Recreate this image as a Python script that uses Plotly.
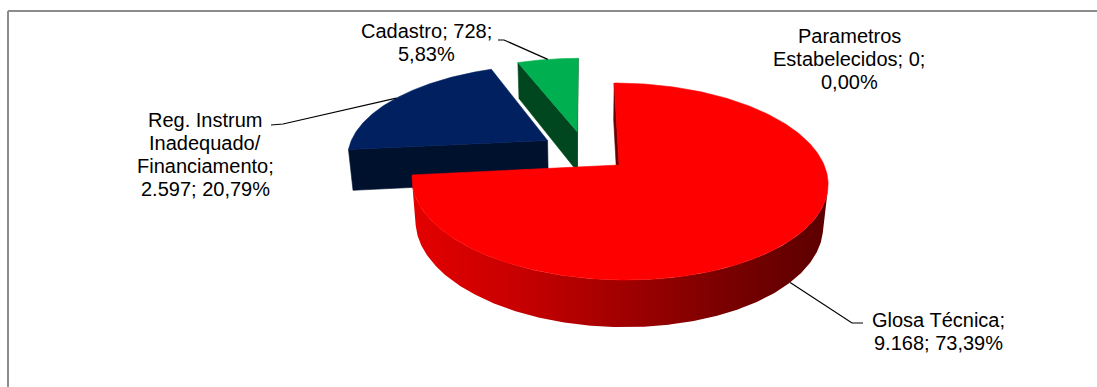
import numpy as np
import plotly.graph_objects as go

# ---- data ----
categories = ["Parametros Estabelecidos", "Glosa Técnica",
              "Reg. Instrum Inadequado/ Financiamento", "Cadastro"]
values = [0, 9168, 2597, 728]

# label text layout per category ({v} = value, {p} = percentage)
label_lines = [
    ["Parametros", "Estabelecidos; {v};", "{p}"],
    ["Glosa Técnica;", "{v}; {p}"],
    ["Reg. Instrum", "Inadequado/", "Financiamento;", "{v}; {p}"],
    ["Cadastro; {v};", "{p}"],
]

# ---- styling ----
top_colors = ["#7f7f7f", "#ff0000", "#002060", "#00b050"]
face_colors = ["#404040", "#6a0000", "#00112e", "#00461f"]
side_scales = [
    None,
    [[0, "#e40000"], [0.25, "#c80000"], [0.5, "#a20000"], [0.75, "#7a0000"], [1, "#5c0000"]],
    [[0, "#00112e"], [1, "#00081a"]],
    [[0, "#00461f"], [1, "#003015"]],
]
# label centre (x, y of first line), line step, leader elbow points
label_pos = [(849, 36), (938, 320), (205, 120), (426, 31)]
LINE_STEP = 23
leader_elbow = [None, [(852, 323), (863, 323)], [(283, 124), (271, 125)], [(504, 40), (498, 40)]]
leader_on_bottom = [False, True, False, False]

FONT = dict(family="Liberation Sans, Arial, sans-serif", size=20, color="#000000")

# ---- 3-D pie projection ----
W, H = 1097, 387
CX, CY = 585, 151
FOCAL = 200.0
ELEV = np.arcsin(0.4555)
DIST = 5.45
THICK = 0.234
EXPLODE = 0.224
COS_E, SIN_E = np.cos(ELEV), np.sin(ELEV)


def project(u, v, w):
    u, v, w = np.asarray(u, float), np.asarray(v, float), np.asarray(w, float)
    z = DIST - v * COS_E - w * SIN_E
    x = CX + FOCAL * DIST * u / z
    y = CY - FOCAL * DIST * (w * COS_E - v * SIN_E) / z
    return x, y


def fmt_val(v):
    return f"{v:,}".replace(",", ".")


def fmt_pct(p):
    return f"{p:.2f}".replace(".", ",") + "%"


total = sum(values)
cum = np.concatenate([[0], np.cumsum(values)])
slices = []
for i, val in enumerate(values):
    t0 = 2 * np.pi * cum[i] / total
    t1 = 2 * np.pi * cum[i + 1] / total
    mid = 0.5 * (t0 + t1)
    ou, ov = EXPLODE * np.sin(mid), -EXPLODE * np.cos(mid)
    slices.append(dict(i=i, t0=t0, t1=t1, mid=mid, ou=ou, ov=ov, val=val))

fig = go.Figure()


def add_poly(x, y, color=None, scale=None):
    kw = dict(x=list(x) + [x[0]], y=list(y) + [y[0]], mode="lines", fill="toself",
              line=dict(width=0.6, color=color if color else "rgba(0,0,0,0)"),
              hoverinfo="skip", showlegend=False)
    if scale is not None:
        kw["fillgradient"] = dict(type="horizontal", colorscale=scale)
        kw["line"] = dict(width=0)
    else:
        kw["fillcolor"] = color
    fig.add_trace(go.Scatter(**kw))


cam_v = DIST * COS_E
for s in sorted(slices, key=lambda d: d["ov"]):
    if s["val"] <= 0:
        continue
    i, t0, t1, ou, ov = s["i"], s["t0"], s["t1"], s["ou"], s["ov"]

    # flat cut faces
    for edge, nang in ((t0, t0 - np.pi / 2), (t1, t1 + np.pi / 2)):
        facing = -ou * np.sin(nang) + (cam_v - ov) * (-np.cos(nang))
        if facing > 0:
            eu, ev = ou + np.sin(edge), ov - np.cos(edge)
            fx, fy = project([ou, eu, eu, ou], [ov, ev, ev, ov], [0, 0, -THICK, -THICK])
            add_poly(fx, fy, color=face_colors[i])

    # curved outer wall (only the part facing the viewer)
    th = np.linspace(t0, t1, 400)
    vis = -ou * np.sin(th) - (cam_v - ov) * np.cos(th) - 1 > 0
    th = th[vis]
    if th.size > 1:
        au, av = ou + np.sin(th), ov - np.cos(th)
        tx, ty = project(au, av, np.zeros_like(th))
        bx, by = project(au, av, np.full_like(th, -THICK))
        add_poly(np.concatenate([tx, bx[::-1]]), np.concatenate([ty, by[::-1]]),
                 scale=side_scales[i])

    # top face
    th = np.linspace(t0, t1, 300)
    pu = np.concatenate([[ou], ou + np.sin(th)])
    pv = np.concatenate([[ov], ov - np.cos(th)])
    px, py = project(pu, pv, np.zeros_like(pu))
    add_poly(px, py, color=top_colors[i])

# ---- labels & leader lines ----
annotations = []
for s in slices:
    i = s["i"]
    pct = 100.0 * s["val"] / total
    lx, ly = label_pos[i]
    for k, line in enumerate(label_lines[i]):
        annotations.append(dict(x=lx, y=ly + k * LINE_STEP, xref="x", yref="y",
                                text=line.format(v=fmt_val(s["val"]), p=fmt_pct(pct)),
                                showarrow=False, font=FONT, xanchor="center", yanchor="middle"))
    if leader_elbow[i] is not None and s["val"] > 0:
        mid = s["mid"]
        au, av = s["ou"] + np.sin(mid), s["ov"] - np.cos(mid)
        aw = -THICK if leader_on_bottom[i] else 0.0
        ax, ay = project(au, av, aw)
        xs = [float(ax)] + [p[0] for p in leader_elbow[i]]
        ys = [float(ay)] + [p[1] for p in leader_elbow[i]]
        fig.add_trace(go.Scatter(x=xs, y=ys, mode="lines", line=dict(color="#000000", width=1.2),
                                 hoverinfo="skip", showlegend=False))

# chart area frame (top and left edges visible)
shapes = [
    dict(type="line", xref="x", yref="y", x0=8, y0=11, x1=W, y1=11,
         line=dict(color="#8c8c8c", width=2)),
    dict(type="line", xref="x", yref="y", x0=8, y0=11, x1=8, y1=H,
         line=dict(color="#8c8c8c", width=2)),
]

fig.update_layout(
    width=W, height=H, margin=dict(l=0, r=0, t=0, b=0),
    paper_bgcolor="#ffffff", plot_bgcolor="#ffffff",
    xaxis=dict(range=[0, W], visible=False, fixedrange=True),
    yaxis=dict(range=[H, 0], visible=False, fixedrange=True),
    annotations=annotations, shapes=shapes, showlegend=False,
)

fig.write_html("out.html", config={"displayModeBar": False})
